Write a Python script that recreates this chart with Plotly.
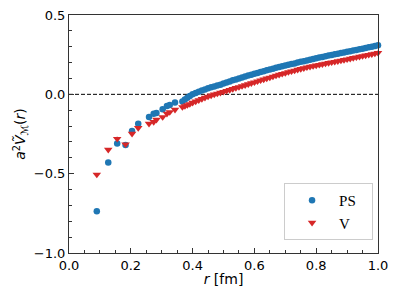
import plotly.graph_objects as go

# Early (sparse) lattice separations
r_early = [0.090, 0.127, 0.156, 0.183, 0.204, 0.224, 0.259, 0.274, 0.283, 0.303, 0.317, 0.326, 0.343]
ps_early = [-0.737, -0.430, -0.310, -0.320, -0.231, -0.185, -0.143, -0.122, -0.118, -0.094, -0.074, -0.068, -0.052]
v_early = [-0.506, -0.349, -0.280, -0.315, -0.248, -0.212, -0.185, -0.174, -0.160, -0.143, -0.122, -0.112, -0.097]
err_early = [0.006, 0.006, 0.012, 0.008, 0.008, 0.008, 0.007, 0.007, 0.006, 0.006, 0.006, 0.006, 0.006]

# Dense region
r_dense = [0.367, 0.375, 0.383, 0.391, 0.40, 0.41, 0.42, 0.43, 0.44, 0.45, 0.46, 0.47, 0.48, 0.49,
           0.50, 0.51, 0.52, 0.53, 0.54, 0.55, 0.56, 0.57, 0.58, 0.59, 0.60, 0.61, 0.62, 0.63, 0.64,
           0.65, 0.66, 0.67, 0.68, 0.69, 0.70, 0.71, 0.72, 0.73, 0.74, 0.75, 0.76, 0.77, 0.78, 0.79,
           0.80, 0.81, 0.82, 0.83, 0.84, 0.85, 0.86, 0.87, 0.88, 0.89, 0.90, 0.91, 0.92, 0.93, 0.94,
           0.95, 0.96, 0.97, 0.98, 0.99, 1.00]
ps_dense = [-0.045, -0.033, -0.022, -0.011, 0.000, 0.008, 0.016, 0.024, 0.031, 0.038, 0.045, 0.050, 0.055, 0.061,
            0.068, 0.075, 0.081, 0.088, 0.094, 0.100, 0.106, 0.112, 0.118, 0.124, 0.130, 0.135, 0.141, 0.146, 0.151,
            0.157, 0.162, 0.167, 0.172, 0.177, 0.181, 0.186, 0.191, 0.195, 0.200, 0.205, 0.209, 0.214, 0.218, 0.223,
            0.227, 0.232, 0.236, 0.240, 0.244, 0.248, 0.252, 0.256, 0.260, 0.264, 0.268, 0.272, 0.276, 0.280, 0.284,
            0.288, 0.292, 0.296, 0.300, 0.304, 0.309]
v_dense = [-0.080, -0.074, -0.068, -0.061, -0.053, -0.045, -0.037, -0.029, -0.021, -0.014, -0.007, -0.001, 0.005, 0.010,
           0.016, 0.022, 0.028, 0.034, 0.040, 0.046, 0.052, 0.058, 0.064, 0.070, 0.076, 0.082, 0.088, 0.094, 0.100,
           0.106, 0.112, 0.118, 0.124, 0.129, 0.134, 0.140, 0.145, 0.150, 0.155, 0.160, 0.165, 0.170, 0.174, 0.178,
           0.182, 0.186, 0.190, 0.194, 0.198, 0.202, 0.205, 0.209, 0.213, 0.217, 0.221, 0.225, 0.229, 0.233, 0.237,
           0.241, 0.245, 0.249, 0.253, 0.257, 0.262]
err_dense = [0.004] * 55 + [0.006, 0.007, 0.008, 0.009, 0.010, 0.011, 0.012, 0.013, 0.014, 0.015]

r_all = r_early + r_dense
ps_all = ps_early + ps_dense
v_all = v_early + v_dense
err_all = err_early + err_dense

x_ticks = [0.0, 0.2, 0.4, 0.6, 0.8, 1.0]
y_ticks = [-1.0, -0.5, 0.0, 0.5]

BLUE = "#1f77b4"
RED = "#d62728"
NBSP = "\u00a0"

fig = go.Figure()
fig.add_trace(go.Scatter(
    x=r_all, y=ps_all, mode="markers", name="PS" + NBSP * 3,
    marker=dict(symbol="circle", size=6.5, color=BLUE),
    error_y=dict(type="data", array=err_all, color=BLUE, thickness=1.2, width=0),
    cliponaxis=False,
))
fig.add_trace(go.Scatter(
    x=r_all, y=v_all, mode="markers", name="V" + NBSP * 3,
    marker=dict(symbol="triangle-down", size=7.5, color=RED),
    error_y=dict(type="data", array=err_all, color=RED, thickness=1.2, width=0),
    cliponaxis=False,
))

fig.add_shape(type="line", xref="x", yref="y", x0=0, x1=1, y0=0, y1=0,
              line=dict(color="black", width=1, dash="4px,2px"), layer="below")

axis_common = dict(
    showgrid=False, zeroline=False, showline=True, linecolor="#333", linewidth=1,
    mirror=True, ticks="inside", ticklen=5, tickwidth=1, tickcolor="#333",
    tickfont=dict(family="DejaVu Sans", size=13, color="black"),
    automargin=False,
)

fig.update_xaxes(
    range=[0, 1], tickvals=x_ticks, ticktext=[f"{t:.1f}" for t in x_ticks],
    minor=dict(ticks="inside", ticklen=3, dtick=0.05, tickcolor="#333", showgrid=False),
    title=dict(text="<i>r</i> [fm]", font=dict(family="DejaVu Sans", size=14, color="black"), standoff=2),
    **axis_common,
)
fig.update_yaxes(
    range=[-1.0, 0.5], tickvals=y_ticks, ticktext=[f"{t:.1f}".replace("-", "\u2212") for t in y_ticks],
    minor=dict(ticks="inside", ticklen=3, dtick=0.1, tickcolor="#333", showgrid=False),
    title=dict(text="<i>a</i><sup>2</sup><i>V\u0303</i><sub>\u2133</sub>(<i>r</i>)",
               font=dict(family="DejaVu Sans", size=14, color="black"), standoff=4),
    **axis_common,
)

fig.update_layout(
    width=399, height=299,
    margin=dict(l=69, r=21, t=15, b=46, autoexpand=False),
    paper_bgcolor="white", plot_bgcolor="white",
    showlegend=True,
    legend=dict(
        x=0.984, y=0.055, xanchor="right", yanchor="bottom",
        bgcolor="white", bordercolor="#cccccc", borderwidth=1,
        font=dict(family="Liberation Serif", size=15, color="black"),
        itemwidth=44, tracegroupgap=4,
    ),
)

fig.write_html("out.html", config={"displayModeBar": False},
               post_script="document.body.style.margin='0';document.body.style.overflow='hidden';")
